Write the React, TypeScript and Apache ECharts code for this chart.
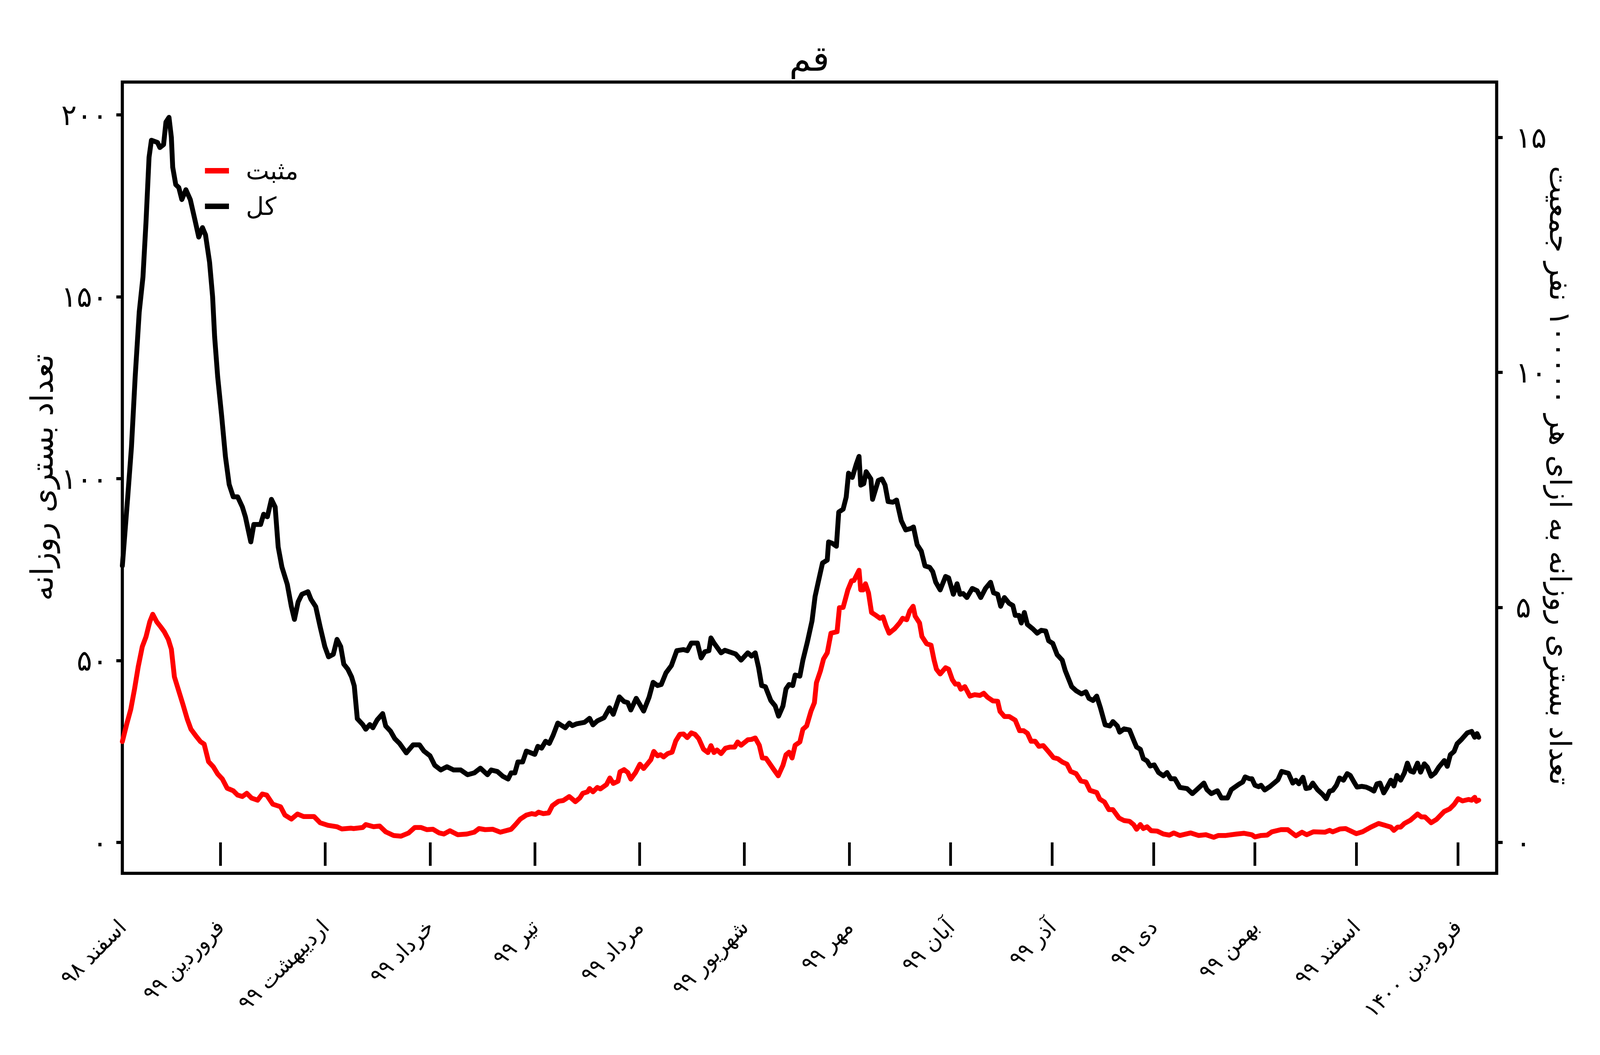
import React, { useEffect, useRef } from "react";
import * as echarts from "echarts";

const FONT = "DejaVu Sans";

// ---- texts ----
const titleText = "قم";
const leftAxisTitle = "تعداد بستری روزانه";
const rightAxisTitle = "تعداد بستری روزانه به ازای هر ۱۰۰۰۰۰ نفر جمعیت";
const positiveName = "مثبت";
const totalName = "کل";

// ---- x axis: days since 1 Esfand 1398 (20 Feb 2020) ----
const monthStartDays = [0, 29, 60, 91, 122, 153, 184, 215, 245, 275, 305, 335, 365, 395];
const monthLabels = [
  "اسفند ۹۸", "فروردین ۹۹", "اردیبهشت ۹۹", "خرداد ۹۹", "تیر ۹۹", "مرداد ۹۹", "شهریور ۹۹",
  "مهر ۹۹", "آبان ۹۹", "آذر ۹۹", "دی ۹۹", "بهمن ۹۹", "اسفند ۹۹", "فروردین ۱۴۰۰",
];
const X_MIN = 0;
const X_MAX = 406.5;

// ---- y axes ----
const leftTickValues = [0, 50, 100, 150, 200];
const leftTickLabels = ["۰", "۵۰", "۱۰۰", "۱۵۰", "۲۰۰"];
const rightTickValues = [0, 5, 10, 15];
const rightTickLabels = ["۰", "۵", "۱۰", "۱۵"];
const LEFT_MIN = -8.5;
const LEFT_MAX = 209;
const PER_100K_DIVISOR = 12.92; // population / 100000

// ---- series: total hospitalisations (black) ----
const totalDays = [
  0, 1.6, 2.7, 3.8, 5.0, 6.1, 7.0, 7.9, 8.6, 10.4, 11.1, 12.2, 12.9, 13.8, 14.5, 14.9, 15.8, 16.7, 17.6, 18.8,
  20.1, 21.5, 22.6, 23.7, 24.6, 25.8, 26.7, 27.3, 28.2, 29.4, 30.5, 31.6, 32.8, 34.1, 35.5, 36.4, 38.0, 38.9, 40.9, 41.8,
  42.9, 44.1, 45.2, 46.1, 47.2, 48.8, 50.0, 50.9, 52.0, 53.1, 54.9, 55.8, 57.2, 58.5, 59.9, 61.0, 62.4, 63.5, 64.6, 65.5,
  66.7, 67.8, 68.6, 69.5, 71.1, 72.0, 73.2, 74.1, 75.4, 77.0, 77.9, 79.3, 80.6, 82.0, 84.0, 86.0, 87.9, 89.2, 91.0, 92.4,
  94.2, 96.0, 98.0, 100.1, 102.1, 104.1, 105.9, 108.0, 109.1, 110.9, 112.5, 114.1, 115.0, 116.1, 117.0, 118.4, 119.5, 122.0, 122.9, 124.0,
  125.2, 126.3, 127.4, 128.8, 131.0, 132.2, 133.1, 134.4, 136.7, 138.2, 139.2, 140.5, 142.5, 144.1, 145.2, 147.0, 148.4, 149.5, 150.4, 152.0,
  154.2, 155.8, 157.0, 158.3, 159.4, 160.8, 162.4, 164.0, 166.0, 167.1, 168.3, 170.1, 171.2, 172.3, 173.5, 174.1, 175.0, 177.1, 178.2, 181.4,
  183.0, 185.0, 186.1, 187.2, 188.2, 189.1, 190.2, 191.8, 193.1, 194.1, 195.4, 196.3, 197.2, 198.3, 199.0, 200.4, 201.3, 202.6, 204.0, 204.9,
  205.8, 207.1, 208.5, 208.9, 210.0, 211.2, 211.9, 213.2, 214.1, 214.8, 215.9, 217.1, 217.9, 218.4, 219.3, 220.0, 221.4, 221.9, 223.6, 224.7,
  225.6, 226.5, 227.9, 229.0, 230.4, 231.7, 233.3, 234.0, 235.1, 236.3, 237.4, 238.8, 239.7, 240.6, 241.9, 243.5, 244.4, 245.8, 246.9, 247.8,
  248.7, 249.8, 251.4, 252.8, 253.9, 255.3, 256.8, 257.7, 258.9, 259.8, 260.9, 262.3, 263.4, 264.1, 265.2, 265.9, 266.8, 267.7, 269.3, 270.6,
  271.8, 273.1, 274.0, 275.2, 276.5, 278.0, 278.9, 280.8, 282.1, 283.7, 285.0, 285.9, 287.1, 288.2, 289.3, 290.7, 292.1, 293.0, 294.3, 295.0,
  296.3, 297.9, 299.3, 300.0, 301.1, 302.0, 303.1, 304.0, 305.2, 306.5, 307.9, 309.0, 310.1, 311.3, 312.8, 314.9, 316.5, 317.8, 319.9, 320.8,
  322.1, 323.9, 325.1, 326.9, 328.0, 330.3, 331.4, 332.1, 333.4, 334.1, 335.0, 336.1, 336.8, 337.9, 339.5, 341.8, 342.9, 344.9, 346.2, 347.1,
  348.0, 349.2, 350.1, 351.2, 352.1, 353.5, 355.0, 356.1, 357.1, 358.0, 359.1, 360.0, 361.2, 362.3, 363.2, 364.3, 365.2, 366.6, 367.9, 369.1,
  370.2, 371.1, 372.0, 373.1, 374.0, 375.2, 376.1, 377.0, 378.1, 379.2, 380.1, 381.0, 381.9, 383.1, 384.0, 385.1, 386.0, 387.1, 388.3, 389.4,
  391.0, 391.9, 392.8, 393.9, 394.8, 396.0, 397.8, 399.1, 400.0, 400.7, 401.2,
];
const totalCounts = [
  76, 95, 108.7, 128, 145.8, 155.4, 170.5, 188.3, 193, 192.4, 191, 191.8, 198, 199.3, 193.8, 185.6, 180.8, 180, 176.7, 179.4,
  176.7, 171, 166.4, 169, 167, 159.5, 150, 139, 128, 117, 106, 98.4, 95, 95, 92.2, 89.5, 82.6, 87.4, 87.4, 90.2,
  89.5, 94.3, 92.2, 81.2, 75.7, 70.9, 64.8, 61.3, 66.1, 68.2, 68.9, 66.8, 64.8, 59.3, 53.8, 51, 51.7, 55.8, 53.8, 49,
  47.6, 45.5, 43, 34, 32.4, 31.1, 32.4, 31.5, 33.7, 35.4, 32, 30.6, 28.5, 27.2, 24.6, 26.8, 26.8, 25.1, 23.8, 21.2,
  19.9, 20.8, 19.9, 19.9, 18.6, 19.1, 20.4, 18.6, 19.9, 19.5, 18.2, 17.4, 19.1, 19.1, 22.1, 22.1, 25.1, 24.2, 26.4, 25.9,
  27.8, 27.2, 29.4, 32.8, 31.5, 32.8, 32.1, 32.6, 33, 34.1, 32.3, 33.4, 34.3, 37, 35.2, 40, 38.7, 38.4, 36.4, 39.6,
  36.1, 39.9, 44, 43.1, 43.4, 46.6, 48.6, 52.7, 53, 52.7, 54.8, 54.8, 50.7, 52.4, 52.7, 56.2, 54.8, 52.1, 52.8, 51.8,
  50.1, 52.1, 51.2, 52.1, 48, 43.1, 42.8, 39, 37.5, 34.7, 37.5, 42.2, 43.4, 43.1, 46, 45.7, 50.1, 55, 60.9, 67.6,
  71.4, 76.8, 77.6, 82.6, 82.2, 81.4, 90.8, 91.6, 94.9, 101.5, 100.3, 104, 106.1, 98.2, 98.6, 101.9, 99.9, 94.3, 99.5, 99.9,
  98.2, 93.7, 93.5, 94.1, 88.4, 85.9, 86.3, 86.7, 81.8, 80.1, 76, 75.6, 74.4, 71.5, 69.4, 73.1, 72.7, 68.2, 71.1, 68.2,
  68.4, 67.3, 69.8, 69.2, 67.3, 69.8, 71.5, 68.6, 68.2, 64.9, 67.3, 65.7, 65.1, 62.4, 62.4, 60.3, 63.2, 59.9, 58.7, 57.5,
  58.3, 58.1, 55.4, 54.7, 51.6, 50.1, 47.2, 42.8, 41.7, 40.8, 41.4, 39.6, 39, 40.2, 37, 32.3, 32, 33.2, 32, 30.3,
  31.2, 30.9, 27.7, 26.2, 25.6, 23, 22.4, 21, 21.3, 19.2, 18.3, 19.2, 17.5, 17.5, 15.1, 14.8, 13.4, 14.5, 16.3, 14.5,
  13.4, 14.2, 12.2, 12.2, 14.5, 16, 16.6, 18, 17.5, 17.5, 15.7, 15.3, 15.7, 14.4, 15.4, 17.2, 19.5, 19, 16.3, 17.1,
  16.1, 17.9, 14.8, 15, 16.3, 14.5, 13.2, 12, 14.1, 14.3, 15.7, 17.7, 17.1, 18.9, 18.4, 16.6, 15.2, 15.4, 15.2, 14.7,
  14.1, 16.1, 16.3, 13.6, 15, 17.1, 15.5, 18.4, 17.1, 19.1, 21.8, 19.6, 19.3, 21.8, 19.3, 21.6, 20.7, 18.2, 19.1, 20.7,
  22.5, 20.9, 24.1, 25, 27.1, 28.2, 30.1, 30.5, 28.9, 29.9, 28.9,
];

// ---- series: positive (red) ----
const positiveDays = [
  0, 1.3, 2.5, 3.6, 4.7, 5.9, 7.0, 8.1, 9.0, 10.2, 11.3, 12.4, 13.6, 14.5, 15.4, 16.3, 17.9, 19.2, 20.3, 21.9,
  23.1, 24.2, 25.5, 26.9, 28.2, 29.6, 31.0, 32.8, 34.1, 35.5, 36.8, 38.2, 40.0, 41.4, 42.7, 44.5, 46.8, 48.1, 50.0, 51.8,
  53.6, 56.7, 58.5, 60.8, 63.5, 64.9, 67.6, 68.4, 71.1, 72.0, 74.3, 76.1, 77.9, 80.2, 82.4, 84.7, 86.5, 88.3, 90.1, 91.9,
  93.7, 95.1, 96.9, 99.2, 101.9, 104.1, 105.5, 107.3, 109.6, 111.8, 115.0, 116.3, 117.7, 119.5, 121.1, 122.2, 123.1, 124.5, 126.1, 127.2,
  129.0, 130.4, 132.2, 134.0, 135.3, 136.2, 137.6, 138.2, 139.2, 140.5, 141.4, 143.2, 144.2, 145.2, 146.6, 147.2, 148.4, 149.5, 150.4, 151.8,
  153.1, 154.2, 156.3, 157.2, 158.3, 159.2, 160.1, 161.3, 162.6, 163.7, 164.9, 166.0, 167.1, 168.3, 169.4, 170.5, 171.9, 173.2, 174.1, 175.0,
  175.9, 177.1, 178.4, 179.8, 181.1, 182.0, 183.0, 185.0, 186.1, 187.2, 188.4, 189.3, 190.4, 192.7, 194.0, 195.4, 196.3, 197.2, 198.1, 199.0,
  200.4, 201.3, 202.4, 203.7, 204.7, 205.3, 206.5, 207.4, 208.5, 209.6, 211.4, 212.1, 213.2, 214.6, 215.7, 216.4, 217.9, 218.4, 219.1, 219.8,
  220.7, 221.6, 222.9, 224.1, 225.0, 225.9, 226.8, 228.4, 229.9, 230.8, 232.0, 232.9, 233.9, 234.5, 235.8, 236.5, 237.9, 239.2, 240.1, 240.8,
  241.9, 243.5, 244.4, 245.5, 246.4, 247.3, 248.0, 249.2, 250.7, 252.1, 253.7, 254.8, 255.9, 257.5, 258.9, 259.6, 260.9, 262.3, 264.1, 265.4,
  266.6, 267.7, 268.8, 270.0, 271.1, 272.4, 274.0, 275.4, 276.7, 278.0, 279.4, 280.5, 282.1, 283.5, 285.0, 286.2, 288.2, 289.1, 290.5, 291.8,
  293.0, 294.8, 296.3, 297.9, 299.1, 300.0, 301.1, 302.0, 303.1, 304.3, 306.1, 307.9, 309.7, 311.0, 312.8, 316.0, 318.3, 320.5, 322.8, 324.2,
  326.4, 329.6, 331.8, 334.1, 335.0, 336.8, 338.6, 340.0, 342.7, 344.7, 347.1, 348.9, 350.3, 352.3, 355.7, 357.1, 358.0, 360.2, 361.8, 363.4,
  365.0, 366.8, 369.3, 371.6, 373.4, 375.2, 376.1, 377.2, 378.1, 379.2, 381.0, 383.1, 384.2, 385.3, 387.1, 388.7, 391.0, 392.6, 393.9, 395.1,
  396.4, 398.2, 399.1, 400.0, 400.5, 401.2,
];
const positiveCounts = [
  27.7, 32.5, 36.6, 42.1, 48.3, 53.8, 56.5, 60.6, 62.7, 60.6, 59.3, 57.9, 55.8, 53.1, 45.5, 42.8, 38, 33.9, 31.1, 29.1,
  27.7, 27, 22.2, 20.8, 18.8, 17.4, 14.9, 14.2, 13, 12.6, 13.5, 12.2, 11.6, 13.3, 13, 10.5, 9.8, 7.5, 6.4, 7.8,
  7.1, 7.1, 5.4, 4.7, 4.3, 3.7, 3.9, 3.8, 4.1, 4.9, 4.3, 4.5, 2.9, 1.9, 1.7, 2.6, 4.1, 4.1, 3.5, 3.6,
  2.6, 2.3, 3.2, 2.1, 2.3, 2.8, 3.8, 3.5, 3.6, 2.8, 3.6, 4.9, 6.4, 7.5, 7.9, 7.7, 8.3, 7.9, 8.1, 10.1,
  11.3, 11.5, 12.6, 11.2, 12.2, 13.5, 13.9, 14.8, 13.9, 15.1, 14.7, 15.9, 17.7, 16.2, 16.8, 19.4, 20, 19.2, 17.4, 19.2,
  21.5, 20.3, 22.7, 25, 23.8, 24.1, 23.5, 24.4, 24.8, 27.9, 29.7, 29.8, 28.8, 30.1, 29.7, 28.5, 25.6, 24.7, 26.6, 24.7,
  25.4, 24.4, 25.9, 26.2, 26.2, 27.6, 26.7, 28.2, 28.3, 28.7, 26.7, 23.2, 23.1, 20, 18.3, 21.2, 24.1, 24.8, 23.2, 26.7,
  27.6, 31.1, 32, 36.1, 38.4, 43.9, 47.2, 50.4, 52.1, 57.5, 57.9, 64.5, 64.6, 69.4, 71.9, 72, 74.8, 69.4, 69.4, 71.1,
  68.6, 63.2, 62.4, 61.6, 62, 59.5, 57.5, 58.7, 60.3, 61.6, 61.2, 63.6, 64.9, 62.2, 60.3, 56.6, 54.6, 54.2, 50.1, 47.6,
  46.3, 48, 47.6, 44.7, 43.5, 43.5, 42.1, 42.8, 40.2, 40.6, 40.4, 41, 39.9, 38.9, 38.8, 36, 34.6, 34.6, 33.6, 30.7,
  30.7, 30, 27.8, 27.8, 26.4, 26.6, 24.9, 23.3, 23, 22.1, 21.5, 19.5, 18.9, 16.9, 16.6, 14.3, 13.7, 11.9, 11.1, 9,
  9, 6.7, 6, 5.8, 4.9, 3.6, 4.9, 3.8, 4.3, 3.2, 3.1, 2.3, 2, 2.6, 1.9, 2.6, 1.9, 2.1, 1.4, 1.9,
  1.9, 2.3, 2.5, 2.1, 1.5, 1.9, 2, 2.9, 3.5, 3.5, 1.8, 2.8, 2.1, 2.9, 2.8, 3.3, 2.9, 3.7, 3.8, 3.1,
  2.4, 2.9, 4.2, 5.2, 4.7, 4.2, 3.3, 4.2, 4.2, 5.2, 6.1, 7.8, 7, 7, 5.4, 6.3, 8.5, 9.2, 10.4, 12,
  11.4, 11.8, 11.6, 12.4, 11.3, 11.6,
];

const pairs = (xs: number[], ys: number[]) => xs.map((x, i) => [x, ys[i]]);
const labelFor = (values: number[], labels: string[]) => (v: number) => {
  const i = values.findIndex((t) => Math.abs(t - v) < 1e-6);
  return i >= 0 ? labels[i] : "";
};

// layout is designed on a 4800 x 2700 canvas and scaled to the real viewport
const BASE_W = 4800;
const BASE_H = 2700;

export default function App() {
  const ref = useRef<HTMLDivElement>(null);

  useEffect(() => {
    document.body.style.margin = "0";
    const el = ref.current;
    if (!el) return;
    const W = el.clientWidth || window.innerWidth || BASE_W;
    const H = el.clientHeight || window.innerHeight || BASE_H;
    const sx = W / BASE_W;
    const sy = H / BASE_H;
    const fs = Math.min(1, (sx + sy) / 2 + 0.02); // horizontal text
    const X = (v: number) => v * sx;
    const Y = (v: number) => v * sy;
    const F = (v: number) => v * fs;
    const FV = (v: number) => v * sy; // vertical (rotated) text

    const chart = echarts.init(el, null, { renderer: "svg", width: W, height: H });
    const textBase = { fontFamily: FONT, color: "#000" };

    const option: any = {
      animation: false,
      backgroundColor: "#ffffff",
      grid: {
        left: X(367), right: X(310), top: Y(210), bottom: Y(465),
        show: true, borderColor: "#000", borderWidth: 8, backgroundColor: "transparent",
        containLabel: false, outerBoundsMode: "none",
      },
      legend: {
        show: true, orient: "vertical", left: X(609), top: Y(392), icon: "rect",
        itemWidth: X(72), itemHeight: Y(14), itemGap: Y(11), selectedMode: false,
        data: [positiveName, totalName],
        textStyle: { ...textBase, fontSize: F(67), lineHeight: Y(80), padding: [0, 0, 0, X(45)] },
      },
      xAxis: {
        type: "value", position: "bottom", min: X_MIN, max: X_MAX,
        axisLine: { show: false }, splitLine: { show: false },
        axisTick: { show: true, length: Y(60), customValues: monthStartDays, lineStyle: { color: "#000", width: 7 } },
        axisLabel: {
          show: true, customValues: monthStartDays, formatter: labelFor(monthStartDays, monthLabels),
          rotate: 45, margin: Y(128), fontSize: F(58), hideOverlap: false, ...textBase,
        },
      },
      yAxis: [
        {
          type: "value", position: "left", min: LEFT_MIN, max: LEFT_MAX,
          axisLine: { show: false }, splitLine: { show: false },
          axisTick: { show: true, length: X(18), customValues: leftTickValues, lineStyle: { color: "#000", width: 8 } },
          axisLabel: {
            show: true, customValues: leftTickValues, formatter: labelFor(leftTickValues, leftTickLabels),
            margin: X(44), fontSize: F(78), ...textBase,
          },
        },
        {
          type: "value", position: "right", min: LEFT_MIN / PER_100K_DIVISOR, max: LEFT_MAX / PER_100K_DIVISOR,
          axisLine: { show: false }, splitLine: { show: false },
          axisTick: { show: true, length: X(18), customValues: rightTickValues, lineStyle: { color: "#000", width: 8 } },
          axisLabel: {
            show: true, customValues: rightTickValues, formatter: labelFor(rightTickValues, rightTickLabels),
            margin: X(57), fontSize: F(78), ...textBase,
          },
        },
      ],
      series: [
        {
          name: positiveName, type: "line", yAxisIndex: 0, data: pairs(positiveDays, positiveCounts),
          showSymbol: false, symbol: "none", itemStyle: { color: "#ff0000" },
          lineStyle: { color: "#ff0000", width: 12.5, join: "round", cap: "round" }, z: 3,
        },
        {
          name: totalName, type: "line", yAxisIndex: 0, data: pairs(totalDays, totalCounts),
          showSymbol: false, symbol: "none", itemStyle: { color: "#000000" },
          lineStyle: { color: "#000000", width: 12.5, join: "round", cap: "round" }, z: 4,
        },
      ],
      graphic: [
        {
          type: "text", x: X(2428), y: Y(150),
          style: { text: titleText, fontFamily: FONT, fontSize: F(95), fill: "#000", align: "center", verticalAlign: "middle" },
        },
        {
          type: "text", x: X(127), y: Y(1222), rotation: Math.PI / 2,
          style: { text: leftAxisTitle, fontFamily: FONT, fontSize: FV(79), fill: "#000", align: "center", verticalAlign: "middle" },
        },
        {
          type: "text", x: X(4680), y: Y(1217), rotation: -Math.PI / 2,
          style: { text: rightAxisTitle, fontFamily: FONT, fontSize: FV(75), fill: "#000", align: "center", verticalAlign: "middle" },
        },
      ],
    };

    chart.setOption(option);
    return () => chart.dispose();
  }, []);

  return <div ref={ref} style={{ position: "absolute", left: 0, top: 0, width: "100vw", height: "100vh" }} />;
}
